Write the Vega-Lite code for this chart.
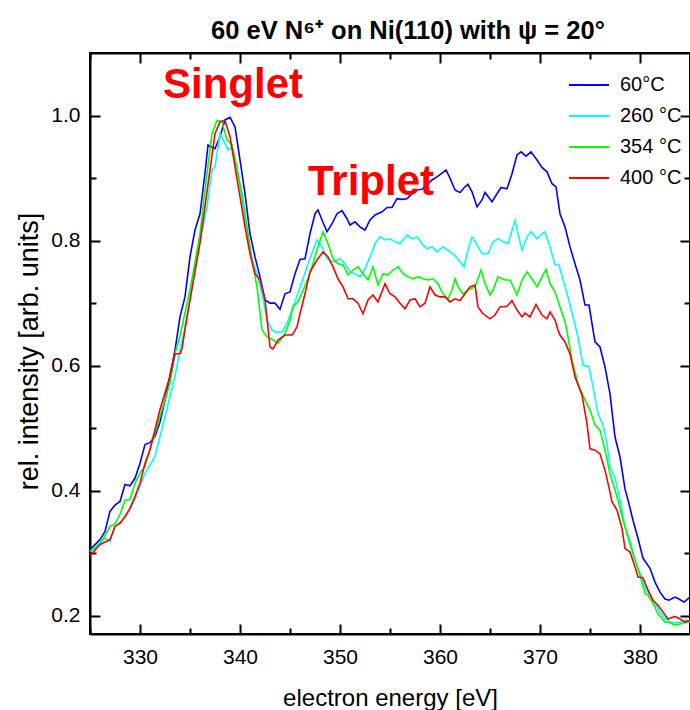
{
"$schema": "https://vega.github.io/schema/vega-lite/v6.json",
"width": 600, "height": 581,
"autosize": "none",
"padding": {"left": 90, "top": 53, "right": 0, "bottom": 76},
"background": "white",
"config": {"font": "Liberation Sans", "view": {"stroke": "black", "strokeWidth": 2}},
"title": {"text": "60 eV N⁶⁺ on Ni(110) with ψ = 20°", "fontSize": 25.5, "fontWeight": "bold", "color": "black", "font": "Liberation Sans", "dx": 18, "dy": 25, "offset": 13, "baseline": "alphabetic"},
"datasets": {
"labels": [{"E": 332.3, "v": 1.028, "t": "Singlet"}, {"E": 346.8, "v": 0.873, "t": "Triplet"}],
"spectra": [
{"s":"60°C","E":325.0,"v":0.306},{"s":"60°C","E":325.5,"v":0.314},{"s":"60°C","E":326.0,"v":0.322},{"s":"60°C","E":326.5,"v":0.335},{"s":"60°C","E":327.0,"v":0.367},{"s":"60°C","E":327.5,"v":0.377},{"s":"60°C","E":328.0,"v":0.383},{"s":"60°C","E":328.5,"v":0.410},{"s":"60°C","E":329.0,"v":0.408},{"s":"60°C","E":329.5,"v":0.420},{"s":"60°C","E":330.0,"v":0.444},{"s":"60°C","E":330.5,"v":0.474},{"s":"60°C","E":331.0,"v":0.477},{"s":"60°C","E":331.5,"v":0.487},{"s":"60°C","E":332.0,"v":0.510},{"s":"60°C","E":332.5,"v":0.545},{"s":"60°C","E":333.0,"v":0.585},{"s":"60°C","E":333.5,"v":0.625},{"s":"60°C","E":334.0,"v":0.678},{"s":"60°C","E":334.5,"v":0.710},{"s":"60°C","E":335.0,"v":0.774},{"s":"60°C","E":335.5,"v":0.817},{"s":"60°C","E":336.0,"v":0.843},{"s":"60°C","E":336.5,"v":0.908},{"s":"60°C","E":336.8,"v":0.953},{"s":"60°C","E":337.5,"v":0.947},{"s":"60°C","E":338.0,"v":0.966},{"s":"60°C","E":338.5,"v":0.993},{"s":"60°C","E":339.0,"v":0.997},{"s":"60°C","E":339.5,"v":0.982},{"s":"60°C","E":340.0,"v":0.929},{"s":"60°C","E":340.5,"v":0.875},{"s":"60°C","E":341.0,"v":0.811},{"s":"60°C","E":341.5,"v":0.774},{"s":"60°C","E":342.0,"v":0.742},{"s":"60°C","E":342.5,"v":0.705},{"s":"60°C","E":343.0,"v":0.700},{"s":"60°C","E":343.5,"v":0.700},{"s":"60°C","E":344.0,"v":0.690},{"s":"60°C","E":344.5,"v":0.715},{"s":"60°C","E":345.0,"v":0.718},{"s":"60°C","E":345.5,"v":0.747},{"s":"60°C","E":346.0,"v":0.770},{"s":"60°C","E":346.5,"v":0.771},{"s":"60°C","E":347.0,"v":0.811},{"s":"60°C","E":347.5,"v":0.843},{"s":"60°C","E":347.8,"v":0.849},{"s":"60°C","E":348.2,"v":0.833},{"s":"60°C","E":348.7,"v":0.814},{"s":"60°C","E":349.2,"v":0.827},{"s":"60°C","E":349.7,"v":0.843},{"s":"60°C","E":350.2,"v":0.848},{"s":"60°C","E":350.7,"v":0.835},{"s":"60°C","E":351.0,"v":0.825},{"s":"60°C","E":351.5,"v":0.830},{"s":"60°C","E":352.0,"v":0.822},{"s":"60°C","E":352.5,"v":0.817},{"s":"60°C","E":353.0,"v":0.833},{"s":"60°C","E":353.5,"v":0.841},{"s":"60°C","E":354.2,"v":0.846},{"s":"60°C","E":354.7,"v":0.853},{"s":"60°C","E":355.2,"v":0.853},{"s":"60°C","E":355.7,"v":0.867},{"s":"60°C","E":356.2,"v":0.866},{"s":"60°C","E":356.7,"v":0.867},{"s":"60°C","E":357.2,"v":0.875},{"s":"60°C","E":357.7,"v":0.881},{"s":"60°C","E":358.2,"v":0.882},{"s":"60°C","E":358.7,"v":0.889},{"s":"60°C","E":359.2,"v":0.897},{"s":"60°C","E":359.7,"v":0.902},{"s":"60°C","E":360.2,"v":0.908},{"s":"60°C","E":360.6,"v":0.913},{"s":"60°C","E":361.0,"v":0.900},{"s":"60°C","E":361.5,"v":0.881},{"s":"60°C","E":362.0,"v":0.877},{"s":"60°C","E":362.5,"v":0.886},{"s":"60°C","E":362.8,"v":0.890},{"s":"60°C","E":363.2,"v":0.878},{"s":"60°C","E":363.7,"v":0.854},{"s":"60°C","E":364.2,"v":0.865},{"s":"60°C","E":364.5,"v":0.877},{"s":"60°C","E":365.2,"v":0.862},{"s":"60°C","E":365.7,"v":0.875},{"s":"60°C","E":366.1,"v":0.885},{"s":"60°C","E":366.7,"v":0.883},{"s":"60°C","E":367.2,"v":0.907},{"s":"60°C","E":367.7,"v":0.937},{"s":"60°C","E":368.1,"v":0.942},{"s":"60°C","E":368.6,"v":0.935},{"s":"60°C","E":369.1,"v":0.942},{"s":"60°C","E":369.7,"v":0.929},{"s":"60°C","E":370.2,"v":0.917},{"s":"60°C","E":370.7,"v":0.910},{"s":"60°C","E":371.2,"v":0.891},{"s":"60°C","E":371.6,"v":0.886},{"s":"60°C","E":372.0,"v":0.843},{"s":"60°C","E":372.5,"v":0.822},{"s":"60°C","E":373.0,"v":0.790},{"s":"60°C","E":373.5,"v":0.763},{"s":"60°C","E":374.0,"v":0.737},{"s":"60°C","E":374.5,"v":0.697},{"s":"60°C","E":374.9,"v":0.697},{"s":"60°C","E":375.5,"v":0.638},{"s":"60°C","E":376.0,"v":0.630},{"s":"60°C","E":376.5,"v":0.598},{"s":"60°C","E":377.0,"v":0.555},{"s":"60°C","E":377.5,"v":0.486},{"s":"60°C","E":378.0,"v":0.454},{"s":"60°C","E":378.5,"v":0.403},{"s":"60°C","E":378.8,"v":0.385},{"s":"60°C","E":379.3,"v":0.353},{"s":"60°C","E":379.8,"v":0.324},{"s":"60°C","E":380.3,"v":0.292},{"s":"60°C","E":381.0,"v":0.276},{"s":"60°C","E":381.5,"v":0.254},{"s":"60°C","E":382.0,"v":0.238},{"s":"60°C","E":382.5,"v":0.227},{"s":"60°C","E":382.9,"v":0.225},{"s":"60°C","E":383.5,"v":0.230},{"s":"60°C","E":383.9,"v":0.227},{"s":"60°C","E":384.4,"v":0.222},{"s":"60°C","E":385.0,"v":0.230},
{"s":"260 °C","E":325.0,"v":0.303},{"s":"260 °C","E":325.5,"v":0.310},{"s":"260 °C","E":326.0,"v":0.318},{"s":"260 °C","E":326.5,"v":0.324},{"s":"260 °C","E":327.0,"v":0.319},{"s":"260 °C","E":327.5,"v":0.343},{"s":"260 °C","E":328.5,"v":0.356},{"s":"260 °C","E":329.5,"v":0.386},{"s":"260 °C","E":330.5,"v":0.428},{"s":"260 °C","E":331.5,"v":0.455},{"s":"260 °C","E":332.0,"v":0.487},{"s":"260 °C","E":332.5,"v":0.519},{"s":"260 °C","E":333.0,"v":0.551},{"s":"260 °C","E":333.5,"v":0.583},{"s":"260 °C","E":334.0,"v":0.626},{"s":"260 °C","E":334.3,"v":0.645},{"s":"260 °C","E":335.0,"v":0.705},{"s":"260 °C","E":336.0,"v":0.801},{"s":"260 °C","E":336.7,"v":0.854},{"s":"260 °C","E":337.2,"v":0.913},{"s":"260 °C","E":337.5,"v":0.918},{"s":"260 °C","E":338.0,"v":0.971},{"s":"260 °C","E":338.5,"v":0.955},{"s":"260 °C","E":338.8,"v":0.945},{"s":"260 °C","E":339.2,"v":0.950},{"s":"260 °C","E":339.7,"v":0.918},{"s":"260 °C","E":340.2,"v":0.865},{"s":"260 °C","E":340.7,"v":0.811},{"s":"260 °C","E":341.2,"v":0.769},{"s":"260 °C","E":341.7,"v":0.747},{"s":"260 °C","E":342.2,"v":0.715},{"s":"260 °C","E":342.7,"v":0.673},{"s":"260 °C","E":343.2,"v":0.657},{"s":"260 °C","E":343.7,"v":0.653},{"s":"260 °C","E":344.2,"v":0.654},{"s":"260 °C","E":344.7,"v":0.668},{"s":"260 °C","E":345.3,"v":0.694},{"s":"260 °C","E":346.0,"v":0.725},{"s":"260 °C","E":346.8,"v":0.763},{"s":"260 °C","E":347.7,"v":0.801},{"s":"260 °C","E":348.2,"v":0.790},{"s":"260 °C","E":348.7,"v":0.771},{"s":"260 °C","E":349.3,"v":0.766},{"s":"260 °C","E":350.0,"v":0.771},{"s":"260 °C","E":350.5,"v":0.763},{"s":"260 °C","E":351.0,"v":0.750},{"s":"260 °C","E":351.5,"v":0.747},{"s":"260 °C","E":352.0,"v":0.742},{"s":"260 °C","E":352.5,"v":0.755},{"s":"260 °C","E":353.0,"v":0.774},{"s":"260 °C","E":353.5,"v":0.795},{"s":"260 °C","E":354.0,"v":0.806},{"s":"260 °C","E":354.5,"v":0.801},{"s":"260 °C","E":355.0,"v":0.803},{"s":"260 °C","E":355.5,"v":0.798},{"s":"260 °C","E":356.0,"v":0.795},{"s":"260 °C","E":356.7,"v":0.809},{"s":"260 °C","E":357.2,"v":0.803},{"s":"260 °C","E":357.7,"v":0.806},{"s":"260 °C","E":358.2,"v":0.795},{"s":"260 °C","E":358.7,"v":0.787},{"s":"260 °C","E":359.2,"v":0.790},{"s":"260 °C","E":359.7,"v":0.782},{"s":"260 °C","E":360.3,"v":0.790},{"s":"260 °C","E":361.0,"v":0.782},{"s":"260 °C","E":361.5,"v":0.776},{"s":"260 °C","E":362.0,"v":0.766},{"s":"260 °C","E":362.4,"v":0.758},{"s":"260 °C","E":362.8,"v":0.785},{"s":"260 °C","E":363.2,"v":0.806},{"s":"260 °C","E":363.7,"v":0.793},{"s":"260 °C","E":364.2,"v":0.779},{"s":"260 °C","E":364.8,"v":0.779},{"s":"260 °C","E":365.3,"v":0.798},{"s":"260 °C","E":365.8,"v":0.803},{"s":"260 °C","E":366.3,"v":0.798},{"s":"260 °C","E":366.8,"v":0.795},{"s":"260 °C","E":367.5,"v":0.832},{"s":"260 °C","E":367.8,"v":0.811},{"s":"260 °C","E":368.2,"v":0.785},{"s":"260 °C","E":368.7,"v":0.806},{"s":"260 °C","E":369.1,"v":0.814},{"s":"260 °C","E":369.7,"v":0.803},{"s":"260 °C","E":370.2,"v":0.811},{"s":"260 °C","E":370.5,"v":0.814},{"s":"260 °C","E":371.0,"v":0.790},{"s":"260 °C","E":371.5,"v":0.761},{"s":"260 °C","E":371.9,"v":0.761},{"s":"260 °C","E":372.3,"v":0.737},{"s":"260 °C","E":372.8,"v":0.710},{"s":"260 °C","E":373.3,"v":0.678},{"s":"260 °C","E":373.8,"v":0.646},{"s":"260 °C","E":374.3,"v":0.601},{"s":"260 °C","E":374.9,"v":0.598},{"s":"260 °C","E":375.3,"v":0.566},{"s":"260 °C","E":375.8,"v":0.523},{"s":"260 °C","E":376.3,"v":0.505},{"s":"260 °C","E":376.7,"v":0.475},{"s":"260 °C","E":377.0,"v":0.438},{"s":"260 °C","E":377.5,"v":0.420},{"s":"260 °C","E":378.0,"v":0.385},{"s":"260 °C","E":378.5,"v":0.342},{"s":"260 °C","E":379.0,"v":0.313},{"s":"260 °C","E":379.5,"v":0.289},{"s":"260 °C","E":380.0,"v":0.268},{"s":"260 °C","E":380.5,"v":0.246},{"s":"260 °C","E":381.0,"v":0.233},{"s":"260 °C","E":381.5,"v":0.220},{"s":"260 °C","E":382.0,"v":0.206},{"s":"260 °C","E":382.5,"v":0.196},{"s":"260 °C","E":383.0,"v":0.190},{"s":"260 °C","E":383.5,"v":0.189},{"s":"260 °C","E":384.0,"v":0.190},{"s":"260 °C","E":384.5,"v":0.193},{"s":"260 °C","E":385.0,"v":0.193},
{"s":"354 °C","E":325.0,"v":0.303},{"s":"354 °C","E":326.0,"v":0.314},{"s":"354 °C","E":327.0,"v":0.343},{"s":"354 °C","E":327.5,"v":0.347},{"s":"354 °C","E":328.0,"v":0.362},{"s":"354 °C","E":328.5,"v":0.385},{"s":"354 °C","E":329.0,"v":0.386},{"s":"354 °C","E":329.5,"v":0.412},{"s":"354 °C","E":330.0,"v":0.428},{"s":"354 °C","E":330.5,"v":0.439},{"s":"354 °C","E":331.0,"v":0.466},{"s":"354 °C","E":332.0,"v":0.519},{"s":"354 °C","E":333.0,"v":0.572},{"s":"354 °C","E":333.5,"v":0.620},{"s":"354 °C","E":334.0,"v":0.648},{"s":"354 °C","E":335.0,"v":0.721},{"s":"354 °C","E":336.0,"v":0.811},{"s":"354 °C","E":336.7,"v":0.907},{"s":"354 °C","E":337.2,"v":0.971},{"s":"354 °C","E":337.7,"v":0.992},{"s":"354 °C","E":338.2,"v":0.990},{"s":"354 °C","E":338.7,"v":0.961},{"s":"354 °C","E":339.2,"v":0.953},{"s":"354 °C","E":339.7,"v":0.913},{"s":"354 °C","E":340.2,"v":0.875},{"s":"354 °C","E":340.7,"v":0.822},{"s":"354 °C","E":341.2,"v":0.769},{"s":"354 °C","E":341.7,"v":0.726},{"s":"354 °C","E":342.2,"v":0.657},{"s":"354 °C","E":342.7,"v":0.646},{"s":"354 °C","E":343.3,"v":0.641},{"s":"354 °C","E":343.8,"v":0.636},{"s":"354 °C","E":344.5,"v":0.651},{"s":"354 °C","E":345.0,"v":0.673},{"s":"354 °C","E":345.3,"v":0.694},{"s":"354 °C","E":345.8,"v":0.702},{"s":"354 °C","E":346.3,"v":0.720},{"s":"354 °C","E":347.0,"v":0.747},{"s":"354 °C","E":347.7,"v":0.785},{"s":"354 °C","E":348.3,"v":0.814},{"s":"354 °C","E":348.8,"v":0.795},{"s":"354 °C","E":349.3,"v":0.771},{"s":"354 °C","E":349.8,"v":0.763},{"s":"354 °C","E":350.3,"v":0.761},{"s":"354 °C","E":350.8,"v":0.745},{"s":"354 °C","E":351.3,"v":0.753},{"s":"354 °C","E":351.8,"v":0.758},{"s":"354 °C","E":352.3,"v":0.747},{"s":"354 °C","E":352.8,"v":0.737},{"s":"354 °C","E":353.3,"v":0.758},{"s":"354 °C","E":353.8,"v":0.729},{"s":"354 °C","E":354.3,"v":0.747},{"s":"354 °C","E":354.8,"v":0.745},{"s":"354 °C","E":355.3,"v":0.753},{"s":"354 °C","E":355.8,"v":0.758},{"s":"354 °C","E":356.3,"v":0.747},{"s":"354 °C","E":356.8,"v":0.742},{"s":"354 °C","E":357.3,"v":0.739},{"s":"354 °C","E":357.8,"v":0.742},{"s":"354 °C","E":358.3,"v":0.739},{"s":"354 °C","E":358.8,"v":0.737},{"s":"354 °C","E":359.3,"v":0.739},{"s":"354 °C","E":359.8,"v":0.731},{"s":"354 °C","E":360.3,"v":0.715},{"s":"354 °C","E":360.8,"v":0.707},{"s":"354 °C","E":361.2,"v":0.721},{"s":"354 °C","E":361.5,"v":0.739},{"s":"354 °C","E":361.8,"v":0.726},{"s":"354 °C","E":362.3,"v":0.715},{"s":"354 °C","E":362.8,"v":0.721},{"s":"354 °C","E":363.5,"v":0.726},{"s":"354 °C","E":364.1,"v":0.753},{"s":"354 °C","E":364.5,"v":0.731},{"s":"354 °C","E":365.0,"v":0.713},{"s":"354 °C","E":365.3,"v":0.721},{"s":"354 °C","E":365.8,"v":0.742},{"s":"354 °C","E":366.5,"v":0.737},{"s":"354 °C","E":367.0,"v":0.737},{"s":"354 °C","E":367.7,"v":0.713},{"s":"354 °C","E":368.2,"v":0.737},{"s":"354 °C","E":368.7,"v":0.750},{"s":"354 °C","E":369.2,"v":0.739},{"s":"354 °C","E":369.7,"v":0.726},{"s":"354 °C","E":370.2,"v":0.742},{"s":"354 °C","E":370.6,"v":0.754},{"s":"354 °C","E":371.0,"v":0.731},{"s":"354 °C","E":371.5,"v":0.718},{"s":"354 °C","E":372.0,"v":0.694},{"s":"354 °C","E":372.5,"v":0.670},{"s":"354 °C","E":372.7,"v":0.655},{"s":"354 °C","E":373.2,"v":0.609},{"s":"354 °C","E":373.8,"v":0.571},{"s":"354 °C","E":374.5,"v":0.545},{"s":"354 °C","E":375.0,"v":0.529},{"s":"354 °C","E":375.5,"v":0.505},{"s":"354 °C","E":376.0,"v":0.497},{"s":"354 °C","E":376.5,"v":0.465},{"s":"354 °C","E":377.0,"v":0.427},{"s":"354 °C","E":377.2,"v":0.417},{"s":"354 °C","E":377.8,"v":0.385},{"s":"354 °C","E":378.3,"v":0.353},{"s":"354 °C","E":379.0,"v":0.318},{"s":"354 °C","E":379.5,"v":0.289},{"s":"354 °C","E":380.0,"v":0.265},{"s":"354 °C","E":380.5,"v":0.236},{"s":"354 °C","E":380.8,"v":0.233},{"s":"354 °C","E":381.3,"v":0.220},{"s":"354 °C","E":381.8,"v":0.203},{"s":"354 °C","E":382.5,"v":0.190},{"s":"354 °C","E":383.0,"v":0.189},{"s":"354 °C","E":383.5,"v":0.185},{"s":"354 °C","E":384.0,"v":0.187},{"s":"354 °C","E":384.5,"v":0.189},{"s":"354 °C","E":385.0,"v":0.190},
{"s":"400 °C","E":325.0,"v":0.296},{"s":"400 °C","E":326.0,"v":0.314},{"s":"400 °C","E":327.0,"v":0.322},{"s":"400 °C","E":327.5,"v":0.343},{"s":"400 °C","E":328.0,"v":0.348},{"s":"400 °C","E":328.5,"v":0.359},{"s":"400 °C","E":329.0,"v":0.372},{"s":"400 °C","E":329.5,"v":0.391},{"s":"400 °C","E":330.0,"v":0.412},{"s":"400 °C","E":330.5,"v":0.444},{"s":"400 °C","E":331.0,"v":0.466},{"s":"400 °C","E":332.0,"v":0.530},{"s":"400 °C","E":333.0,"v":0.583},{"s":"400 °C","E":333.5,"v":0.619},{"s":"400 °C","E":334.0,"v":0.619},{"s":"400 °C","E":334.2,"v":0.627},{"s":"400 °C","E":334.5,"v":0.658},{"s":"400 °C","E":335.0,"v":0.705},{"s":"400 °C","E":336.0,"v":0.796},{"s":"400 °C","E":337.0,"v":0.913},{"s":"400 °C","E":337.5,"v":0.971},{"s":"400 °C","E":338.0,"v":0.990},{"s":"400 °C","E":338.5,"v":0.992},{"s":"400 °C","E":339.0,"v":0.966},{"s":"400 °C","E":339.5,"v":0.918},{"s":"400 °C","E":340.0,"v":0.870},{"s":"400 °C","E":340.5,"v":0.822},{"s":"400 °C","E":341.0,"v":0.779},{"s":"400 °C","E":341.5,"v":0.747},{"s":"400 °C","E":342.0,"v":0.737},{"s":"400 °C","E":342.5,"v":0.705},{"s":"400 °C","E":343.0,"v":0.630},{"s":"400 °C","E":343.3,"v":0.627},{"s":"400 °C","E":343.8,"v":0.641},{"s":"400 °C","E":344.5,"v":0.649},{"s":"400 °C","E":345.2,"v":0.649},{"s":"400 °C","E":345.7,"v":0.662},{"s":"400 °C","E":346.0,"v":0.683},{"s":"400 °C","E":346.5,"v":0.715},{"s":"400 °C","E":347.0,"v":0.750},{"s":"400 °C","E":347.7,"v":0.769},{"s":"400 °C","E":348.3,"v":0.782},{"s":"400 °C","E":348.8,"v":0.774},{"s":"400 °C","E":349.3,"v":0.758},{"s":"400 °C","E":349.8,"v":0.739},{"s":"400 °C","E":350.3,"v":0.726},{"s":"400 °C","E":350.8,"v":0.707},{"s":"400 °C","E":351.3,"v":0.707},{"s":"400 °C","E":351.8,"v":0.700},{"s":"400 °C","E":352.3,"v":0.683},{"s":"400 °C","E":352.8,"v":0.705},{"s":"400 °C","E":353.3,"v":0.713},{"s":"400 °C","E":353.8,"v":0.702},{"s":"400 °C","E":354.5,"v":0.731},{"s":"400 °C","E":355.0,"v":0.715},{"s":"400 °C","E":355.5,"v":0.710},{"s":"400 °C","E":356.0,"v":0.700},{"s":"400 °C","E":356.5,"v":0.691},{"s":"400 °C","E":357.0,"v":0.705},{"s":"400 °C","E":357.5,"v":0.707},{"s":"400 °C","E":358.0,"v":0.694},{"s":"400 °C","E":358.5,"v":0.700},{"s":"400 °C","E":359.0,"v":0.726},{"s":"400 °C","E":359.5,"v":0.713},{"s":"400 °C","E":360.0,"v":0.710},{"s":"400 °C","E":360.5,"v":0.710},{"s":"400 °C","E":361.0,"v":0.702},{"s":"400 °C","E":361.5,"v":0.707},{"s":"400 °C","E":362.0,"v":0.704},{"s":"400 °C","E":362.5,"v":0.715},{"s":"400 °C","E":363.0,"v":0.726},{"s":"400 °C","E":363.5,"v":0.729},{"s":"400 °C","E":363.8,"v":0.694},{"s":"400 °C","E":364.3,"v":0.683},{"s":"400 °C","E":365.0,"v":0.675},{"s":"400 °C","E":365.5,"v":0.681},{"s":"400 °C","E":366.0,"v":0.694},{"s":"400 °C","E":366.7,"v":0.695},{"s":"400 °C","E":367.2,"v":0.704},{"s":"400 °C","E":367.7,"v":0.689},{"s":"400 °C","E":368.2,"v":0.678},{"s":"400 °C","E":368.5,"v":0.684},{"s":"400 °C","E":369.0,"v":0.678},{"s":"400 °C","E":369.6,"v":0.698},{"s":"400 °C","E":370.2,"v":0.681},{"s":"400 °C","E":370.7,"v":0.675},{"s":"400 °C","E":371.0,"v":0.686},{"s":"400 °C","E":371.5,"v":0.673},{"s":"400 °C","E":371.8,"v":0.657},{"s":"400 °C","E":372.0,"v":0.649},{"s":"400 °C","E":372.5,"v":0.638},{"s":"400 °C","E":373.0,"v":0.619},{"s":"400 °C","E":373.5,"v":0.582},{"s":"400 °C","E":374.2,"v":0.553},{"s":"400 °C","E":374.7,"v":0.507},{"s":"400 °C","E":375.0,"v":0.467},{"s":"400 °C","E":375.5,"v":0.465},{"s":"400 °C","E":376.0,"v":0.459},{"s":"400 °C","E":376.5,"v":0.433},{"s":"400 °C","E":376.9,"v":0.405},{"s":"400 °C","E":377.2,"v":0.382},{"s":"400 °C","E":377.7,"v":0.369},{"s":"400 °C","E":378.2,"v":0.340},{"s":"400 °C","E":378.5,"v":0.308},{"s":"400 °C","E":379.0,"v":0.302},{"s":"400 °C","E":379.5,"v":0.278},{"s":"400 °C","E":379.8,"v":0.262},{"s":"400 °C","E":380.3,"v":0.261},{"s":"400 °C","E":380.8,"v":0.241},{"s":"400 °C","E":381.3,"v":0.225},{"s":"400 °C","E":381.8,"v":0.217},{"s":"400 °C","E":382.3,"v":0.206},{"s":"400 °C","E":382.8,"v":0.195},{"s":"400 °C","E":383.5,"v":0.199},{"s":"400 °C","E":384.0,"v":0.195},{"s":"400 °C","E":384.5,"v":0.190},{"s":"400 °C","E":385.0,"v":0.193}
]},
"layer": [
{"data": {"name": "spectra"},
 "mark": {"type": "line", "strokeWidth": 1.6, "clip": true},
 "encoding": {
  "x": {"field": "E", "type": "quantitative",
        "scale": {"domain": [325, 385], "nice": false, "zero": false},
        "axis": {"orient": "bottom", "title": "electron energy [eV]", "grid": false,
                 "values": [325,330,335,340,345,350,355,360,365,370,375,380,385],
                 "labelExpr": "datum.value % 10 === 0 ? datum.label : ''",
                 "tickSize": {"condition": {"test": "datum.value % 10 === 0", "value": -10}, "value": -6},
                 "tickWidth": 2, "tickColor": "black", "domainColor": "black", "domainWidth": 2,
                 "labelFontSize": 21, "labelColor": "black", "labelPadding": 22, "labelFont": "Liberation Sans",
                 "titleFontSize": 24, "titleFontWeight": "normal", "titleColor": "black", "titleFont": "Liberation Sans",
                 "titleBaseline": "alphabetic", "titleX": 300, "titleY": 71, "titleAnchor": "middle"}},
  "y": {"field": "v", "type": "quantitative",
        "scale": {"domain": [0.171, 1.1], "nice": false, "zero": false},
        "axis": {"orient": "left", "title": "rel. intensity [arb. units]", "grid": false,
                 "values": [0.2,0.3,0.4,0.5,0.6,0.7,0.8,0.9,1.0], "format": ".1f",
                 "labelExpr": "round(datum.value*10) % 2 === 0 ? datum.label : ''",
                 "tickSize": {"condition": {"test": "round(datum.value*10) % 2 === 0", "value": -10}, "value": -6},
                 "tickWidth": 2, "tickColor": "black", "domainColor": "black", "domainWidth": 2,
                 "labelFontSize": 21, "labelColor": "black", "labelPadding": 20, "labelFont": "Liberation Sans",
                 "titleFontSize": 27, "titleFontWeight": "normal", "titleColor": "black", "titleFont": "Liberation Sans",
                 "titleBaseline": "alphabetic", "titleX": -53, "titleY": 298, "titleAngle": -90, "titleAlign": "center"}},
  "color": {"field": "s", "type": "nominal",
            "scale": {"domain": ["60°C", "260 °C", "354 °C", "400 °C"], "range": ["#0000ff", "#00ffff", "#00ff00", "#ff0000"]},
            "legend": {"orient": "none", "legendX": 478, "legendY": 11, "title": null, "padding": 0,
                       "symbolType": "stroke", "symbolSize": 1600, "symbolStrokeWidth": 2, "rowPadding": 0,
                       "labelFontSize": 20, "labelColor": "black", "labelFont": "Liberation Sans", "labelOffset": 10}}
 }},
{"data": {"name": "labels"},
 "mark": {"type": "text", "fontSize": 42, "fontWeight": "bold", "color": "#ff0000", "align": "left", "baseline": "alphabetic", "font": "Liberation Sans"},
 "encoding": {
  "x": {"field": "E", "type": "quantitative",
        "scale": {"domain": [325, 385], "nice": false, "zero": false},
        "axis": {"orient": "top", "title": null, "labels": false, "grid": false,
                 "values": [325,330,335,340,345,350,355,360,365,370,375,380,385],
                 "tickSize": {"condition": {"test": "datum.value % 10 === 0", "value": -10}, "value": -6},
                 "tickWidth": 2, "tickColor": "black", "domainColor": "black", "domainWidth": 2}},
  "y": {"field": "v", "type": "quantitative",
        "scale": {"domain": [0.171, 1.1], "nice": false, "zero": false},
        "axis": {"orient": "right", "title": null, "labels": false, "grid": false,
                 "values": [0.2,0.3,0.4,0.5,0.6,0.7,0.8,0.9,1.0],
                 "tickSize": {"condition": {"test": "round(datum.value*10) % 2 === 0", "value": -10}, "value": -6},
                 "tickWidth": 2, "tickColor": "black", "domainColor": "black", "domainWidth": 2}},
  "text": {"field": "t", "type": "nominal"}
 }}
],
"resolve": {"axis": {"x": "independent", "y": "independent"}}
}
